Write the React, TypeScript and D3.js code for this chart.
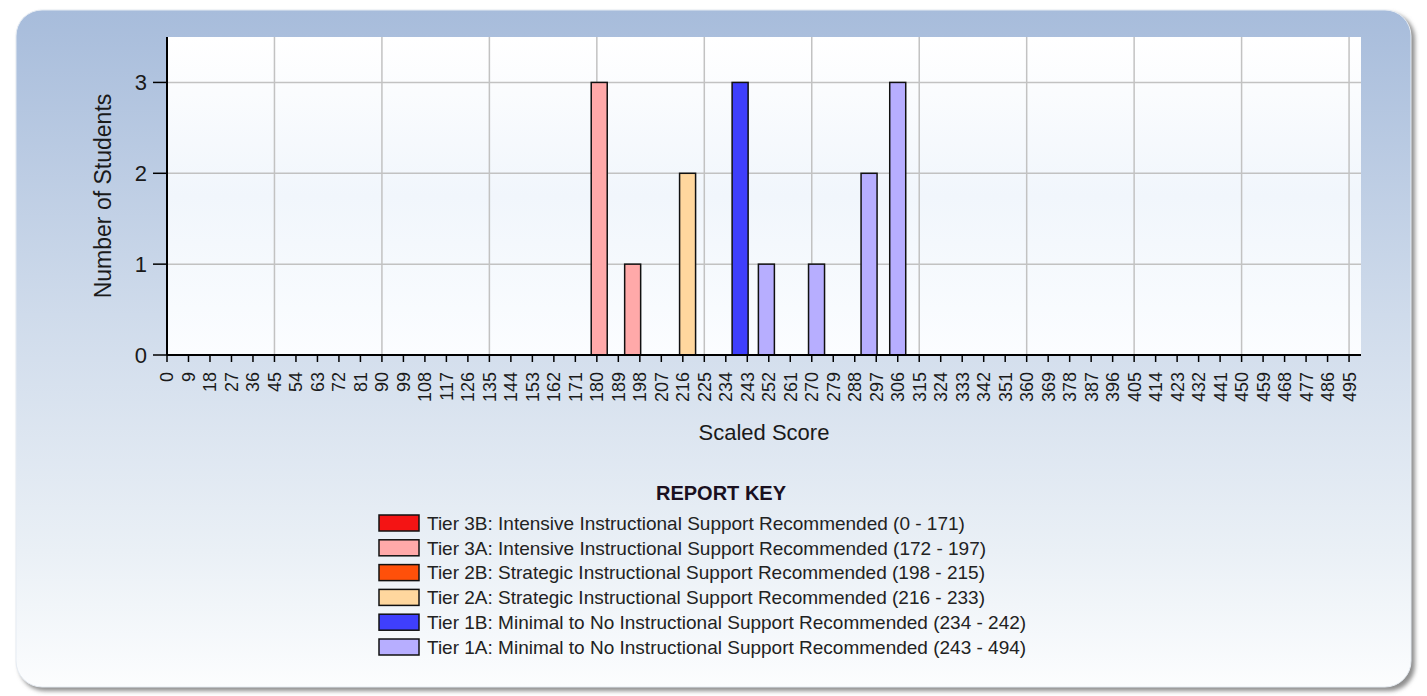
import React from "react";
import * as d3 from "d3";

// ---- data ----
const scores = [181, 195, 218, 240, 251, 272, 294, 306];
const counts = [3, 1, 2, 3, 1, 1, 2, 3];

const tierLabels = [
  "Tier 3B: Intensive Instructional Support Recommended (0 - 171)",
  "Tier 3A: Intensive Instructional Support Recommended (172 - 197)",
  "Tier 2B: Strategic Instructional Support Recommended (198 - 215)",
  "Tier 2A: Strategic Instructional Support Recommended (216 - 233)",
  "Tier 1B: Minimal to No Instructional Support Recommended (234 - 242)",
  "Tier 1A: Minimal to No Instructional Support Recommended (243 - 494)",
];
const tierMin = [0, 172, 198, 216, 234, 243];
const tierMax = [171, 197, 215, 233, 242, 494];
const tierColors = ["#f41414", "#ffa9a9", "#ff500a", "#ffd79e", "#3f3ffc", "#b7aeff"];

const xTicks = d3.range(0, 496, 9);
const xGrid = d3.range(45, 496, 45);
const yTicks = [0, 1, 2, 3];

const W = 1427;
const H = 696;

export default function App() {
  const x = d3.scaleLinear().domain([0, 500]).range([167, 1361]);
  const y = d3.scaleLinear().domain([0, 3.5]).range([355, 37]);
  const barW = 6.7;
  const colorFor = (s: number) => {
    const i = tierMin.findIndex((m, k) => s >= m && s <= tierMax[k]);
    return tierColors[i < 0 ? 0 : i];
  };
  const font = "'Liberation Sans', Arial, sans-serif";
  return (
    <svg
      width={W}
      height={H}
      style={{ position: "absolute", left: 0, top: 0, background: "#fff" }}
      fontFamily={font}
    >
      <defs>
        <linearGradient id="frameGrad" x1="0" y1="0" x2="0" y2="1">
          <stop offset="0%" stopColor="#a7bcdb" />
          <stop offset="45%" stopColor="#cfdbeb" />
          <stop offset="80%" stopColor="#eaf0f6" />
          <stop offset="100%" stopColor="#fcfdfe" />
        </linearGradient>
        <linearGradient id="plotGrad" x1="0" y1="0" x2="0" y2="1">
          <stop offset="0%" stopColor="#ffffff" />
          <stop offset="50%" stopColor="#f1f6fc" />
          <stop offset="100%" stopColor="#fbfdff" />
        </linearGradient>
        <filter id="shadow" x="-5%" y="-5%" width="110%" height="110%">
          <feGaussianBlur stdDeviation="2" />
        </filter>
      </defs>

      {/* frame */}
      <rect x={19} y={13} width={1396} height={678} rx={26} fill="#8f8f8f" filter="url(#shadow)" />
      <rect x={16} y={10} width={1395} height={677} rx={26} fill="url(#frameGrad)" stroke="#e6ecf3" strokeWidth={1} />

      {/* plot area */}
      <rect x={x(0)} y={y(3.5)} width={x(500) - x(0)} height={y(0) - y(3.5)} fill="url(#plotGrad)" />

      {/* grid */}
      {xGrid.map((g) => (
        <line key={"gx" + g} x1={x(g)} x2={x(g)} y1={y(3.5)} y2={y(0)} stroke="#c2c2c2" strokeWidth={1.5} />
      ))}
      {yTicks.filter((t) => t > 0).map((t) => (
        <line key={"gy" + t} x1={x(0)} x2={x(500)} y1={y(t)} y2={y(t)} stroke="#c2c2c2" strokeWidth={1.5} />
      ))}

      {/* bars */}
      {scores.map((s, i) => (
        <rect
          key={"b" + i}
          x={x(s - barW / 2)}
          y={y(counts[i])}
          width={x(barW) - x(0)}
          height={y(0) - y(counts[i])}
          fill={colorFor(s)}
          stroke="#111"
          strokeWidth={1.5}
        />
      ))}

      {/* axes */}
      <line x1={x(0)} x2={x(0)} y1={y(3.5)} y2={y(0)} stroke="#000" strokeWidth={2} />
      <line x1={x(0)} x2={x(500)} y1={y(0)} y2={y(0)} stroke="#000" strokeWidth={2} />
      {yTicks.map((t) => (
        <g key={"yt" + t}>
          <line x1={x(0) - 14} x2={x(0)} y1={y(t)} y2={y(t)} stroke="#000" strokeWidth={1.5} />
          <text x={x(0) - 20} y={y(t)} dy="0.36em" textAnchor="end" fontSize={22} fill="#1a1a1a">
            {t}
          </text>
        </g>
      ))}
      {xTicks.map((t) => (
        <g key={"xt" + t}>
          <line x1={x(t)} x2={x(t)} y1={y(0)} y2={y(0) + 7} stroke="#000" strokeWidth={1.5} />
          <text
            transform={`translate(${x(t)},372) rotate(-90)`}
            dy="0.36em"
            textAnchor="end"
            fontSize={18}
            fill="#1a1a1a"
          >
            {t}
          </text>
        </g>
      ))}

      {/* axis titles */}
      <text
        transform={`translate(103,${(y(0) + y(3.5)) / 2}) rotate(-90)`}
        dy="0.36em"
        textAnchor="middle"
        fontSize={23}
        fill="#1a1a1a"
      >
        Number of Students
      </text>
      <text x={(x(0) + x(500)) / 2} y={440} textAnchor="middle" fontSize={22} fill="#1a1a1a">
        Scaled Score
      </text>

      {/* legend */}
      <text x={721} y={500} textAnchor="middle" fontSize={20} fontWeight="bold" fill="#1a1020">
        REPORT KEY
      </text>
      {tierLabels.map((lab, i) => (
        <g key={"lg" + i} transform={`translate(379,${515 + i * 24.8})`}>
          <rect x={0} y={0} width={40} height={16} fill={tierColors[i]} stroke="#111" strokeWidth={1.5} />
          <text x={48} y={8} dy="0.36em" fontSize={19} fill="#222">
            {lab}
          </text>
        </g>
      ))}
    </svg>
  );
}
